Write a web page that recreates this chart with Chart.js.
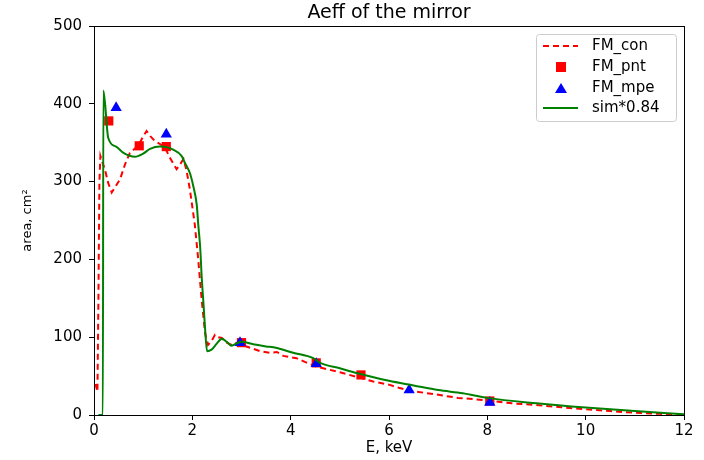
<!DOCTYPE html>
<html>
<head>
<meta charset="utf-8">
<script src="https://cdn.jsdelivr.net/npm/chart.js@4/dist/chart.umd.min.js"></script>
<style>
  html, body { margin: 0; padding: 0; background: #fff; }
  #wrap { width: 704px; height: 460px; }
</style>
</head>
<body>
<div id="wrap"><canvas id="aeffChart" width="704" height="460"></canvas></div>
<script>
// -----------------------------
// MEASURED AND SIMULATED AREA
// -----------------------------
const conE = [0.03, 0.07, 0.09, 0.11, 0.13, 0.17, 0.22, 0.29, 0.36, 0.45, 0.53, 0.63, 0.73, 0.9,
    1.0, 1.07, 1.15, 1.24, 1.35, 1.44, 1.55, 1.68, 1.75, 1.82, 1.88, 1.95, 2.05, 2.12, 2.19,
    2.26, 2.32, 2.39, 2.46, 2.53, 2.6, 2.7, 2.8, 2.9, 2.97, 3.1, 3.38, 3.58, 3.72, 3.85, 4.12,
    4.3, 4.53, 5.0, 5.34, 5.68, 6.0, 6.2, 6.43, 6.9, 7.4, 7.98, 8.5, 8.94, 9.5, 9.95, 10.5,
    10.97, 11.5, 11.98];
const conArea = [40, 30, 150, 300, 333, 325, 316, 298, 286, 295, 303, 322, 337, 346,
    358, 365, 358, 352, 348, 344, 330, 316, 322, 329, 315, 290, 245, 200, 148,
    105, 90, 95, 103, 100, 99, 93, 90, 93, 93, 88, 82, 80, 81, 76, 73,
    68, 62, 55, 49, 43, 39, 35, 31, 27, 22, 19, 15, 13, 10, 7.5, 5,
    3, 1.5, 0];

const simE = [0.09, 0.18, 0.19, 0.29, 0.45, 0.6, 0.83, 1.0, 1.14, 1.34, 1.5, 1.61, 1.78, 1.85,
    1.95, 2.02, 2.09, 2.12, 2.16, 2.19, 2.23, 2.26, 2.3, 2.39, 2.5, 2.6, 2.7, 2.8, 2.9, 3.0,
    3.24, 3.5, 3.65, 4.05, 4.46, 4.6, 5.0, 5.34, 6.0, 6.5, 7.0, 7.5, 8.0, 9.0, 10.0, 11.0, 12.0];
const simArea = [0, 0, 417, 356, 345, 337, 332, 336, 342, 345, 344, 341, 333, 324,
    311, 294, 270, 245, 215, 178, 140, 110, 82, 84, 92, 98, 94, 89, 92, 94,
    91, 88, 87, 80, 73, 67, 60, 54, 44, 38, 32, 28, 22, 15, 9.5, 5, 1];

const pntE = [0.30, 0.92, 1.47, 3.0, 4.52, 5.43, 8.05];
const pntArea = [378, 346, 345, 93, 67, 51.5, 18];

const mpeE = [0.45, 1.47, 2.97, 4.52, 6.41, 8.05];
const mpeArea = [395, 361, 93, 66, 32, 16];

const xTicks = [0, 2, 4, 6, 8, 10, 12];
const yTicks = [0, 100, 200, 300, 400, 500];

const toPoints = (xs, ys) => xs.map((x, i) => ({ x: x, y: ys[i] }));

const FONT = 'DejaVu Sans';

// box round the plot, title, and the legend in the upper right corner
const framePlugin = {
    id: 'frame',
    afterDraw(chart) {
        const ctx = chart.ctx;
        const a = chart.chartArea;
        ctx.save();
        ctx.strokeStyle = '#000';
        ctx.lineWidth = 1;
        ctx.strokeRect(a.left + 0.5, a.top + 0.5, a.right - a.left, a.bottom - a.top);

        ctx.fillStyle = '#000';
        ctx.font = '19px ' + FONT;
        ctx.textAlign = 'center';
        ctx.textBaseline = 'middle';
        ctx.fillText('Aeff of the mirror', (a.left + a.right) / 2, 13);

        // legend
        const bx = 536, by = 34, bw = 140, bh = 87;
        ctx.fillStyle = 'rgba(255,255,255,0.8)';
        ctx.strokeStyle = '#cccccc';
        ctx.beginPath();
        ctx.roundRect(bx + 0.5, by + 0.5, bw, bh, 3);
        ctx.fill();
        ctx.stroke();

        const rows = [46, 67, 88, 108];
        const sx0 = 543, sx1 = 578, tx = 592;

        ctx.strokeStyle = '#ff0000';
        ctx.lineWidth = 2;
        ctx.setLineDash([6, 4]);
        ctx.beginPath();
        ctx.moveTo(sx0, rows[0]);
        ctx.lineTo(sx1, rows[0]);
        ctx.stroke();
        ctx.setLineDash([]);

        ctx.fillStyle = '#ff0000';
        ctx.fillRect(556, rows[1] - 5, 10, 10);

        ctx.fillStyle = '#0000ff';
        ctx.beginPath();
        ctx.moveTo(561, rows[2] - 5);
        ctx.lineTo(567, rows[2] + 5);
        ctx.lineTo(555, rows[2] + 5);
        ctx.closePath();
        ctx.fill();

        ctx.strokeStyle = '#008000';
        ctx.beginPath();
        ctx.moveTo(sx0, rows[3]);
        ctx.lineTo(sx1, rows[3]);
        ctx.stroke();

        ctx.fillStyle = '#000';
        ctx.font = '15px ' + FONT;
        ctx.textAlign = 'left';
        const names = ['FM_con', 'FM_pnt', 'FM_mpe', 'sim*0.84'];
        names.forEach((n, i) => ctx.fillText(n, tx, rows[i]));
        ctx.restore();
    }
};

new Chart(document.getElementById('aeffChart'), {
    type: 'scatter',
    data: {
        datasets: [
            {
                label: 'FM_con',
                type: 'line',
                data: toPoints(conE, conArea),
                borderColor: '#ff0000',
                borderWidth: 2,
                borderDash: [6, 4],
                pointRadius: 0,
                tension: 0,
                fill: false,
                order: 4
            },
            {
                label: 'FM_pnt',
                data: toPoints(pntE, pntArea),
                pointStyle: 'rect',
                pointRadius: 6.5,
                backgroundColor: '#ff0000',
                borderColor: '#ff0000',
                borderWidth: 0,
                order: 3
            },
            {
                label: 'FM_mpe',
                data: toPoints(mpeE, mpeArea),
                pointStyle: 'triangle',
                pointRadius: 6.5,
                backgroundColor: '#0000ff',
                borderColor: '#0000ff',
                borderWidth: 0,
                order: 2
            },
            {
                label: 'sim*0.84',
                type: 'line',
                data: toPoints(simE, simArea),
                borderColor: '#008000',
                borderWidth: 2,
                pointRadius: 0,
                cubicInterpolationMode: 'monotone',
                fill: false,
                order: 1
            }
        ]
    },
    options: {
        responsive: false,
        animation: false,
        layout: { padding: { left: 20, right: 20, top: 26, bottom: 0 } },
        plugins: {
            legend: { display: false },
            tooltip: { enabled: false },
            title: { display: false }
        },
        scales: {
            x: {
                type: 'linear',
                min: 0,
                max: 12,
                afterBuildTicks: s => { s.ticks = xTicks.map(v => ({ value: v })); },
                afterFit: s => { s.height = 45; },
                grid: { drawOnChartArea: false, tickLength: 5, color: '#000' },
                border: { color: '#000' },
                ticks: { color: '#000', font: { family: FONT, size: 15 }, padding: 2, maxRotation: 0 },
                title: { display: true, text: 'E, keV', color: '#000', font: { family: FONT, size: 15 }, padding: { top: 0, bottom: 3 } }
            },
            y: {
                type: 'linear',
                min: 0,
                max: 500,
                afterBuildTicks: s => { s.ticks = yTicks.map(v => ({ value: v })); },
                afterFit: s => { s.width = 74; },
                grid: { drawOnChartArea: false, tickLength: 5, color: '#000' },
                border: { color: '#000' },
                ticks: { color: '#000', font: { family: FONT, size: 15 }, padding: 7 },
                title: { display: true, text: 'area, cm²', color: '#000', font: { family: FONT, size: 13 }, padding: { top: 0, bottom: 0 } }
            }
        }
    },
    plugins: [framePlugin]
});
</script>
</body>
</html>
